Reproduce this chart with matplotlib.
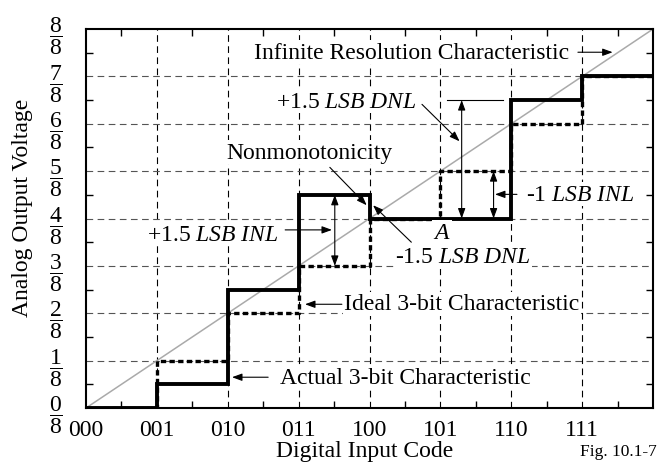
import numpy as np
import matplotlib
matplotlib.use("Agg")
import matplotlib.pyplot as plt

plt.rcParams["font.family"] = "Liberation Serif"
plt.rcParams["mathtext.fontset"] = "custom"
plt.rcParams["mathtext.rm"] = "Liberation Serif"
plt.rcParams["mathtext.it"] = "Liberation Serif:italic"

# digital codes and output levels (in eighths of full scale)
codes = ["000", "001", "010", "011", "100", "101", "110", "111"]
ideal_levels = [0, 1, 2, 3, 4, 5, 6, 7]
actual_levels = [0, 0.5, 2.5, 4.5, 4, 4, 6.5, 7]
fractions = [r"$\dfrac{%d}{8}$" % k for k in range(9)]

FS = 17

fig = plt.figure(figsize=(6.63, 4.64), dpi=100)
ax = fig.add_axes([0.1297, 0.1185, 0.8553, 0.8168])

x_edges = np.arange(len(codes) + 1)

# infinite resolution line
ax.plot([0, 8], [0, 8], color="#aaaaaa", lw=1.1, zorder=2)

for k in range(1, 8):
    ax.axvline(k, color="k", lw=0.8, ls=(0, (6, 4)), zorder=1)
    ax.axhline(k, color="#555555", lw=0.8, ls=(0, (6, 4)), zorder=1)

ax.step(x_edges, ideal_levels + ideal_levels[-1:], where="post", color="k",
        lw=2.4, ls=(0, (1.6, 1)), dash_capstyle="butt", zorder=3)
ax.step(x_edges, actual_levels + actual_levels[-1:], where="post", color="k",
        lw=2.8, solid_joinstyle="miter", zorder=4)

ax.set_xlim(0, 8)
ax.set_ylim(0, 8)
ax.set_xticks(range(8), codes, fontsize=FS)
ax.set_yticks(range(9), fractions, fontsize=FS)
ax.set_xticks(np.arange(0.5, 8, 1), minor=True)
ax.set_yticks(np.arange(0.5, 8, 1), minor=True)
ax.tick_params(which="major", length=0)
ax.tick_params(axis="x", which="major", pad=8)
ax.tick_params(axis="y", which="major", pad=17)
ax.tick_params(which="minor", direction="in", length=5, width=1,
               top=True, right=True)
for s in ax.spines.values():
    s.set_linewidth(1.5)

box = dict(facecolor="white", edgecolor="none", pad=1)


def arrow(x0, y0, x1, y1, style="-|>"):
    ax.annotate("", xy=(x1, y1), xytext=(x0, y0),
                arrowprops=dict(arrowstyle=style + ",head_length=0.6,head_width=0.22",
                                color="k", lw=0.8, shrinkA=0, shrinkB=0,
                                mutation_scale=10), zorder=6)


def label(x, y, s, ha="center"):
    ax.text(x, y, s, fontsize=FS, ha=ha, va="center", bbox=box, zorder=5)


label(4.59, 7.51, "Infinite Resolution Characteristic")
arrow(6.94, 7.51, 7.43, 7.51)

label(3.67, 6.48, r"+1.5 $\mathit{LSB\ DNL}$")
ax.plot([5.1, 5.88], [6.5, 6.5], color="k", lw=0.8, zorder=6)
arrow(4.74, 6.41, 5.27, 5.63)
arrow(5.30, 4, 5.30, 6.5, "<|-|>")

label(3.16, 5.40, "Nonmonotonicity")
arrow(3.44, 5.08, 3.96, 4.28)

label(5.32, 3.19, r"-1.5 $\mathit{LSB\ DNL}$")
arrow(4.59, 3.50, 4.05, 4.28)

label(5.02, 3.71, r"$\mathit{A}$")

label(6.97, 4.51, r"-1 $\mathit{LSB\ INL}$")
arrow(6.08, 4.51, 5.77, 4.51)
arrow(5.75, 4, 5.75, 5, "<|-|>")

label(1.79, 3.67, r"+1.5 $\mathit{LSB\ INL}$")
arrow(2.81, 3.76, 3.47, 3.76)
arrow(3.51, 3, 3.51, 4.5, "<|-|>")

label(3.64, 2.2, "Ideal 3-bit Characteristic", ha="left")
arrow(3.61, 2.19, 3.09, 2.19)

label(2.74, 0.65, "Actual 3-bit Characteristic", ha="left")
arrow(2.57, 0.65, 2.06, 0.65)

fig.text(23 / 663, 1 - 208 / 464, "Analog Output Voltage", rotation=90,
         fontsize=FS, ha="center", va="center")
fig.text(365 / 663, 1 - 452 / 464, "Digital Input Code", fontsize=FS,
         ha="center", va="center")
fig.text(618 / 663, 1 - 452 / 464, "Fig. 10.1-7", fontsize=12.5,
         ha="center", va="center")

fig.savefig("out.png", dpi=100)
